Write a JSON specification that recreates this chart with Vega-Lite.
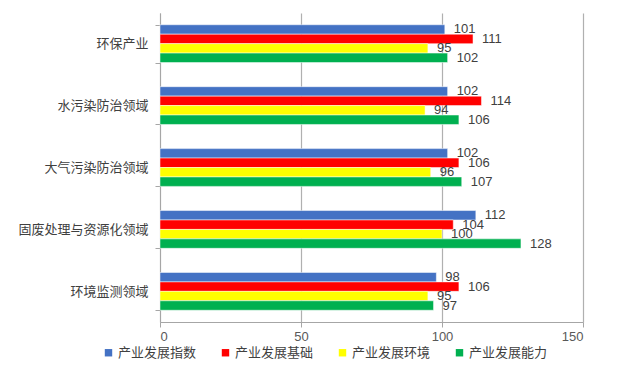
{
  "$schema": "https://vega.github.io/schema/vega-lite/v6.json",
  "autosize": {"type": "none"},
  "width": 423,
  "height": 309,
  "padding": {"left": 160, "top": 13, "right": 57, "bottom": 46},
  "background": "white",
  "config": {
    "view": {"stroke": null},
    "font": "Noto Sans CJK SC"
  },
  "data": {
    "values": [
      {"category": "环保产业", "series": "产业发展指数", "value": 101},
      {"category": "环保产业", "series": "产业发展基础", "value": 111},
      {"category": "环保产业", "series": "产业发展环境", "value": 95},
      {"category": "环保产业", "series": "产业发展能力", "value": 102},
      {"category": "水污染防治领域", "series": "产业发展指数", "value": 102},
      {"category": "水污染防治领域", "series": "产业发展基础", "value": 114},
      {"category": "水污染防治领域", "series": "产业发展环境", "value": 94},
      {"category": "水污染防治领域", "series": "产业发展能力", "value": 106},
      {"category": "大气污染防治领域", "series": "产业发展指数", "value": 102},
      {"category": "大气污染防治领域", "series": "产业发展基础", "value": 106},
      {"category": "大气污染防治领域", "series": "产业发展环境", "value": 96},
      {"category": "大气污染防治领域", "series": "产业发展能力", "value": 107},
      {"category": "固废处理与资源化领域", "series": "产业发展指数", "value": 112},
      {"category": "固废处理与资源化领域", "series": "产业发展基础", "value": 104},
      {"category": "固废处理与资源化领域", "series": "产业发展环境", "value": 100},
      {"category": "固废处理与资源化领域", "series": "产业发展能力", "value": 128},
      {"category": "环境监测领域", "series": "产业发展指数", "value": 98},
      {"category": "环境监测领域", "series": "产业发展基础", "value": 106},
      {"category": "环境监测领域", "series": "产业发展环境", "value": 95},
      {"category": "环境监测领域", "series": "产业发展能力", "value": 97}
    ]
  },
  "encoding": {
    "y": {
      "field": "category",
      "type": "nominal",
      "sort": null,
      "scale": {"paddingInner": 0.39, "paddingOuter": 0.19},
      "axis": {
        "title": null,
        "tickBand": "extent",
        "domainColor": "#a6a6a6",
        "tickColor": "#a6a6a6",
        "tickSize": 5,
        "labelFontSize": 13,
        "labelColor": "#404040",
        "labelPadding": 7,
        "labelFont": "Noto Sans CJK SC"
      }
    },
    "yOffset": {
      "field": "series",
      "type": "nominal",
      "sort": ["产业发展指数", "产业发展基础", "产业发展环境", "产业发展能力"]
    },
    "x": {
      "field": "value",
      "type": "quantitative",
      "scale": {"domain": [0, 150], "nice": false},
      "axis": {
        "title": null,
        "values": [0, 50, 100, 150],
        "grid": true,
        "gridColor": "#b0b0b0",
        "gridWidth": 1.2,
        "domainColor": "#a6a6a6",
        "tickColor": "#a6a6a6",
        "tickSize": 5,
        "labelFontSize": 13,
        "labelColor": "#595959",
        "labelPadding": 3,
        "labelFont": "Liberation Sans"
      }
    }
  },
  "layer": [
    {
      "mark": {"type": "bar", "stroke": "white", "strokeWidth": 0.5},
      "encoding": {
        "color": {
          "field": "series",
          "type": "nominal",
          "sort": ["产业发展指数", "产业发展基础", "产业发展环境", "产业发展能力"],
          "scale": {
            "domain": ["产业发展指数", "产业发展基础", "产业发展环境", "产业发展能力"],
            "range": ["#4472C4", "#FF0000", "#FFFF00", "#00B050"]
          },
          "legend": {
            "title": null,
            "orient": "none",
            "legendX": -58,
            "legendY": 333,
            "direction": "horizontal",
            "columns": 4,
            "symbolType": "square",
            "symbolSize": 55,
            "symbolStrokeWidth": 0,
            "labelFontSize": 13,
            "labelColor": "#404040",
            "labelFont": "Noto Sans CJK SC",
            "labelOffset": 3,
            "columnPadding": 22
          }
        }
      }
    },
    {
      "mark": {"type": "text", "align": "left", "dx": 9, "fontSize": 13, "color": "#404040", "font": "Liberation Sans"},
      "encoding": {
        "text": {"field": "value", "type": "quantitative"}
      }
    }
  ]
}
